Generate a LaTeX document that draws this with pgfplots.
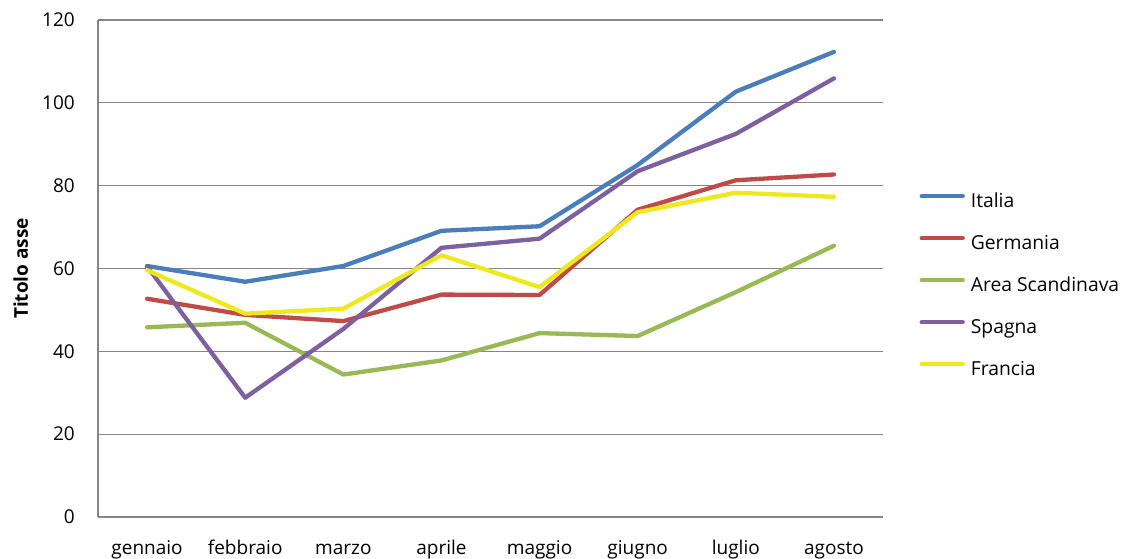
\documentclass[border=0pt]{standalone}
\usepackage{fontspec}
\setmainfont{Open Sans}
\usepackage{pgfplots}
\pgfplotsset{compat=1.18}
\definecolor{cIt}{RGB}{74,126,187}
\definecolor{cDe}{RGB}{190,75,72}
\definecolor{cSc}{RGB}{152,185,84}
\definecolor{cEs}{RGB}{125,96,160}
\definecolor{cFr}{RGB}{238,232,30}
\definecolor{gridc}{RGB}{134,134,134}
\begin{document}
\begin{tikzpicture}
\useasboundingbox (0,0) rectangle (1131pt,558pt);
\begin{axis}[
  at={(98pt,41pt)}, anchor=south west,
  scale only axis, width=785pt, height=497pt,
  xmin=-0.5, xmax=7.5, ymin=0, ymax=120,
  xtick={0,...,7},
  xticklabels={gennaio,febbraio,marzo,aprile,maggio,giugno,luglio,agosto},
  ytick={0,20,...,120},
  major tick length=0pt,
  ymajorgrids,
  grid style={draw=gridc, line width=1.2pt},
  axis x line*=bottom, axis y line*=left,
  axis line style={draw=gridc, line width=1.6pt, -},
  /pgf/number format/assume math mode=true,
  tick label style={font=\fontsize{19}{23}\selectfont, text=black},
  yticklabel style={anchor=east, inner sep=0pt, xshift=-23pt},
  xticklabel style={anchor=north, inner sep=0pt, yshift=-23pt, text height=14pt, text depth=4pt},
  ylabel={Titolo asse},
  every axis y label/.style={at={(axis description cs:-0.0985,0.5)}, rotate=90, anchor=center, font=\fontsize{19}{23}\selectfont\bfseries},
  legend style={draw=none, fill=none, at={(axis description cs:1.0425,0.656)}, anchor=north west,
    font=\fontsize{19.3}{23}\selectfont, row sep=24pt,
    nodes={inner sep=0pt, text height=14pt, text depth=4pt},
    /tikz/every odd column/.style={column sep=6pt}},
  legend cell align=left,
  legend image code/.code={\draw[#1] (0pt,6pt) -- (41pt,6pt);},
  every axis plot/.append style={line width=4.3pt, line cap=round, line join=round, no markers},
]
\addplot[cIt] coordinates {(0,60.6) (1,56.8) (2,60.6) (3,69.1) (4,70.2) (5,85.0) (6,102.7) (7,112.3)};
\addlegendentry{Italia}
\addplot[cDe] coordinates {(0,52.7) (1,48.8) (2,47.3) (3,53.7) (4,53.6) (5,74.2) (6,81.3) (7,82.7)};
\addlegendentry{Germania}
\addplot[cSc] coordinates {(0,45.8) (1,46.9) (2,34.4) (3,37.8) (4,44.4) (5,43.7) (6,54.3) (7,65.5)};
\addlegendentry{Area Scandinava}
\addplot[cEs] coordinates {(0,60.5) (1,28.8) (2,45.4) (3,65.0) (4,67.2) (5,83.5) (6,92.5) (7,105.9)};
\addlegendentry{Spagna}
\addplot[cFr] coordinates {(0,59.6) (1,49.1) (2,50.3) (3,63.2) (4,55.5) (5,73.6) (6,78.3) (7,77.3)};
\addlegendentry{Francia}
\end{axis}
\end{tikzpicture}
\end{document}
